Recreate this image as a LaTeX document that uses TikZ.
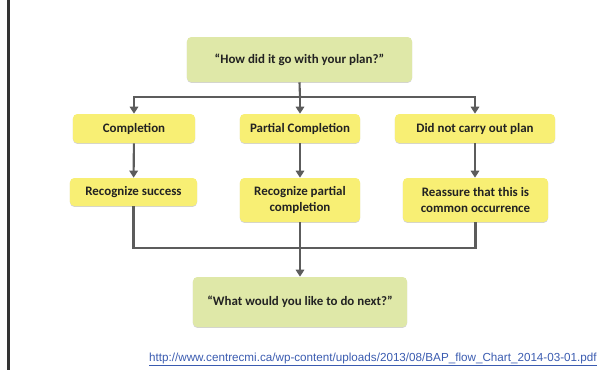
\documentclass[tikz,border=0pt]{standalone}
\usepackage{fontspec}
\setmainfont{Carlito}
\newfontfamily\urlfont{Liberation Sans}
\usepackage{xcolor}
\usepackage{tikz}
\usetikzlibrary{arrows.meta,shadows}
\definecolor{pgreen}{HTML}{DFE8A8}
\definecolor{pyellow}{HTML}{F8EF74}
\definecolor{pgrayd}{HTML}{5C5C5C}
\definecolor{ptext}{HTML}{222222}
\definecolor{plink}{HTML}{3A5BB0}
\tikzset{
  % Pale box with a soft shadow under it.
  blk/.style   = {rectangle, rounded corners=3pt, draw=none, fill=#1, inner sep=0pt,
                  align=center, text=ptext, font=\fontsize{9.2}{11}\selectfont\bfseries,
                  drop shadow={shadow xshift=0pt, shadow yshift=-0.6pt, opacity=0.35}},
  blk/.default = pyellow,
  lane/.style  = {line width=1.5pt, pgrayd},
  arr/.style   = {-{Triangle[length=5pt,width=6pt]}, line width=1.5pt, pgrayd},
  lnk/.style   = {font=\urlfont\fontsize{8.3}{9}\selectfont, text=plink, inner sep=0pt},
}
\begin{document}
\begin{tikzpicture}[x=0.25mm, y=-0.25mm]
\useasboundingbox (0,0) rectangle (602,370);
\node[blk=pgreen,  minimum width=56.25mm, minimum height=11.25mm] (ask)  at (299.5,59.5) {``How did it go with your plan?''};
\node[blk, minimum width=30.5mm,  minimum height=7.25mm] (comp) at (134,128.5) {Completion};
\node[blk, minimum width=30mm,    minimum height=7.25mm] (part) at (300,128.5) {Partial Completion};
\node[blk, minimum width=40mm,    minimum height=7.25mm] (none) at (475,128.5) {Did not carry out plan};
\node[blk, minimum width=31.75mm, minimum height=7mm]    (succ) at (133.5,192) {Recognize success};
\node[blk, minimum width=30mm,    minimum height=11mm]   (rpart) at (300,200) {Recognize partial\\completion};
\node[blk, minimum width=36.25mm, minimum height=11mm]   (reas) at (475.5,200) {Reassure that this is\\common occurrence};
\node[blk=pgreen,  minimum width=53.5mm, minimum height=12.5mm] (next) at (300,302) {``What would you like to do next?''};
\coordinate (split) at (300,97);
\coordinate (join)  at (300,248);
\draw[lane] (ask.south) -- (split);
\draw[arr] (split) -| (comp.north);
\draw[arr] (split) -- (part.north);
\draw[arr] (split) -| (none.north);
\draw[arr] (comp) -- (succ);
\draw[arr] (part) -- (rpart);
\draw[arr] (none.south) -- (none.south |- reas.north);
\draw[lane] (succ.south) |- (join);
\draw[lane] (reas.south) |- (join);
\draw[lane] (rpart.south) -- (join);
\draw[arr] (join) -- (next.north);
% slide edge on the left
\coordinate (edgetop) at (8.5,0);
\coordinate (edgebot) at (8.5,370);
\draw[line width=1.6pt, black!80] (edgetop) -- (edgebot);
\node[lnk, anchor=base east] (src) at (597,361)
  {\underline{http://www.centrecmi.ca/wp-content/uploads/2013/08/BAP\_flow\_Chart\_2014-03-01.pdf}};
\end{tikzpicture}
\end{document}
